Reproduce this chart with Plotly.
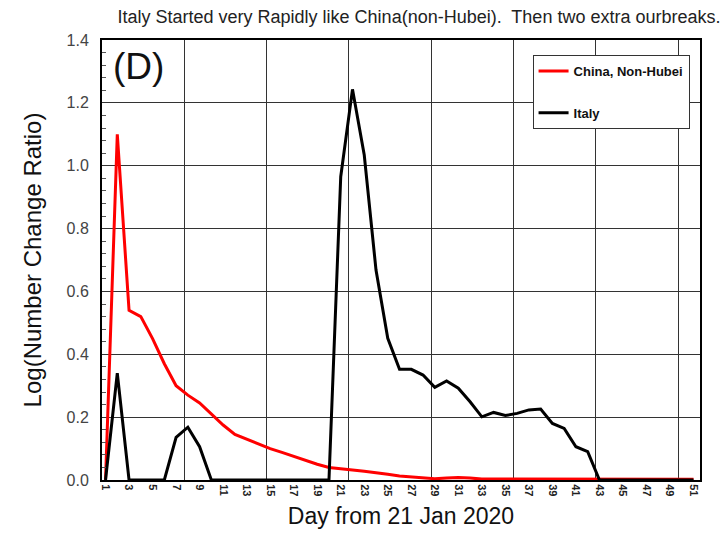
import plotly.graph_objects as go

days = list(range(1, 52))

china_non_hubei = [0.0, 1.10, 0.54, 0.52, 0.45, 0.37, 0.30, 0.27, 0.245, 0.21,
                   0.175, 0.145, 0.13, 0.115, 0.10, 0.088, 0.075, 0.062, 0.05, 0.04,
                   0.035, 0.032, 0.028, 0.022, 0.018, 0.013, 0.01, 0.006, 0.004, 0.006,
                   0.008, 0.006, 0.003, 0.003, 0.003, 0.003, 0.002, 0.002, 0.002, 0.002,
                   0.002, 0.002, 0.002, 0.002, 0.002, 0.002, 0.002, 0.002, 0.002, 0.002,
                   0.002]

italy = [0.0, 0.34, 0.0, 0.0, 0.0, 0.0, 0.136, 0.168, 0.106, 0.0,
         0.0, 0.0, 0.0, 0.0, 0.0, 0.0, 0.0, 0.0, 0.0, 0.0,
         0.965, 1.243, 1.034, 0.668, 0.451, 0.352, 0.352, 0.334, 0.295, 0.315,
         0.292, 0.249, 0.201, 0.215, 0.205, 0.212, 0.223, 0.226, 0.18, 0.164,
         0.106, 0.09, 0.0, 0.0, 0.0, 0.0, 0.0, 0.0, 0.0, 0.0,
         0.0]

x_tick_vals = list(range(1, 52, 2))
x_tick_text = [str(v) for v in x_tick_vals]

FONT = "Liberation Sans, Arial, sans-serif"

fig = go.Figure()
fig.add_trace(go.Scatter(x=days, y=china_non_hubei, mode="lines", name="China, Non-Hubei",
                         line=dict(color="#ff0000", width=3), legendgroup="a"))
fig.add_trace(go.Scatter(x=days, y=italy, mode="lines", name="Italy",
                         line=dict(color="#000000", width=3), legendgroup="b"))

fig.update_layout(
    width=728, height=545,
    margin=dict(l=102, r=28, t=40, b=65),
    paper_bgcolor="white", plot_bgcolor="white",
    font=dict(family=FONT, color="#111"),
    title=dict(text="Italy Started very Rapidly like China(non-Hubei).  Then two extra ourbreaks.",
               x=419/728, xanchor="center", y=1-17/545, yanchor="middle",
               font=dict(size=18, color="#222")),
    showlegend=True,
    legend=dict(x=0.72, y=0.966, xanchor="left", yanchor="top",
                bgcolor="white", bordercolor="#333", borderwidth=1,
                font=dict(size=13, color="#111", family=FONT, weight="bold"),
                traceorder="grouped", tracegroupgap=22, itemwidth=30,
                entrywidth=134),
    xaxis=dict(range=[0.7, 51.55], tickmode="array", tickvals=x_tick_vals, ticktext=x_tick_text,
               tickangle=90, tickfont=dict(size=11, weight="bold", color="#222"),
               showgrid=False, zeroline=False, ticks="",
               showline=True, linecolor="black", linewidth=2, mirror=True,
               minor=dict(tick0=0.7, dtick=7, showgrid=True, gridcolor="#333", gridwidth=1, ticks=""),
               title=dict(text="Day from 21 Jan 2020", font=dict(size=23, color="#111"), standoff=12)),
    yaxis=dict(range=[0, 1.4], dtick=0.2, tick0=0, tickformat=".1f",
               tickfont=dict(size=16, color="#444"), ticklabelstandoff=8,
               showgrid=True, gridcolor="#333", gridwidth=1, zeroline=False,
               showline=True, linecolor="black", linewidth=2, mirror=True,
               ticks="",
               minor=dict(dtick=0.04, ticks="inside", ticklen=4, tickcolor="#555", showgrid=False),
               title=dict(text="Log(Number Change Ratio)", font=dict(size=24, color="#111"), standoff=18)),
    annotations=[dict(text="(D)", x=0.015, y=0.99, xref="paper", yref="paper",
                      xanchor="left", yanchor="top", showarrow=False,
                      font=dict(size=37, color="#111", family=FONT))],
)

fig.write_html("out.html")
